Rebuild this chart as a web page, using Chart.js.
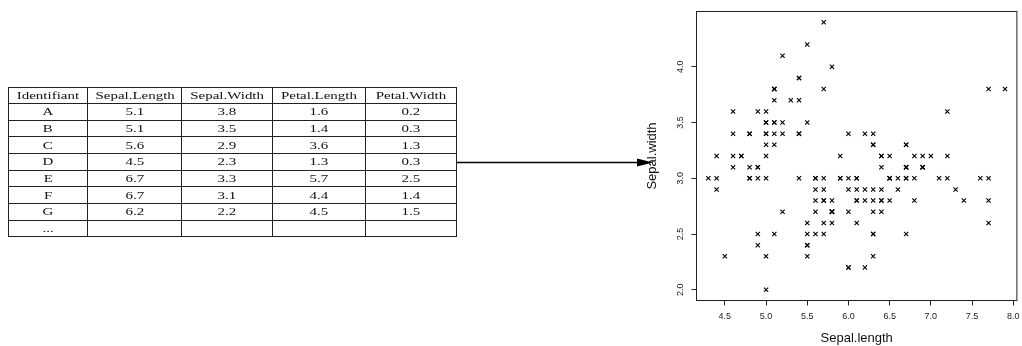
<!DOCTYPE html>
<html>
<head>
<meta charset="utf-8">
<script src="https://cdn.jsdelivr.net/npm/chart.js@4.4.1/dist/chart.umd.min.js"></script>
<style>
  html, body { margin: 0; padding: 0; background: #fff; }
  #wrap { position: relative; width: 1022px; height: 346px; overflow: hidden; }
  #plot { position: absolute; left: 0; top: 0; }
  #tbl {
    position: absolute; left: 8px; top: 86.5px; z-index: 2;
    border-collapse: collapse; table-layout: fixed; width: 448px;
    font-family: "Liberation Serif", "Times New Roman", serif; font-size: 11px; color: #111;
  }
  #tbl tr { height: 16.65px; }
  #tbl td { border: 1px solid #222; padding: 0; text-align: center; line-height: 13px; overflow: visible; }
  #tbl td span { display: inline-block; transform: scaleX(1.36); white-space: nowrap; }
</style>
</head>
<body>
<div id="wrap">
  <canvas id="plot" width="1022" height="346"></canvas>
  <table id="tbl">
    <colgroup>
      <col style="width:79px"><col style="width:94.4px"><col style="width:90.6px"><col style="width:93.4px"><col style="width:90.6px">
    </colgroup>
    <tbody id="tbody"></tbody>
  </table>
</div>
<script>
// ---- table content ----
const tableHeaders   = ['Identifiant', 'Sepal.Length', 'Sepal.Width', 'Petal.Length', 'Petal.Width'];
const rowIds         = ['A', 'B', 'C', 'D', 'E', 'F', 'G', '...'];
const rowSepalLength = ['5.1', '5.1', '5.6', '4.5', '6.7', '6.7', '6.2', ''];
const rowSepalWidth  = ['3.8', '3.5', '2.9', '2.3', '3.3', '3.1', '2.2', ''];
const rowPetalLength = ['1.6', '1.4', '3.6', '1.3', '5.7', '4.4', '4.5', ''];
const rowPetalWidth  = ['0.2', '0.3', '1.3', '0.3', '2.5', '1.4', '1.5', ''];
const arrowRowId     = 'D';

// ---- scatter data: iris sepal length / width ----
const sepalLength = [
  5.1,4.9,4.7,4.6,5.0,5.4,4.6,5.0,4.4,4.9,5.4,4.8,4.8,4.3,5.8,5.7,5.4,5.1,5.7,5.1,
  5.4,5.1,4.6,5.1,4.8,5.0,5.0,5.2,5.2,4.7,4.8,5.4,5.2,5.5,4.9,5.0,5.5,4.9,4.4,5.1,
  5.0,4.5,4.4,5.0,5.1,4.8,5.1,4.6,5.3,5.0,
  7.0,6.4,6.9,5.5,6.5,5.7,6.3,4.9,6.6,5.2,5.0,5.9,6.0,6.1,5.6,6.7,5.6,5.8,6.2,5.6,
  5.9,6.1,6.3,6.1,6.4,6.6,6.8,6.7,6.0,5.7,5.5,5.5,5.8,6.0,5.4,6.0,6.7,6.3,5.6,5.5,
  5.5,6.1,5.8,5.0,5.6,5.7,5.7,6.2,5.1,5.7,
  6.3,5.8,7.1,6.3,6.5,7.6,4.9,7.3,6.7,7.2,6.5,6.4,6.8,5.7,5.8,6.4,6.5,7.7,7.7,6.0,
  6.9,5.6,7.7,6.3,6.7,7.2,6.2,6.1,6.4,7.2,7.4,7.9,6.4,6.3,6.1,7.7,6.3,6.4,6.0,6.9,
  6.7,6.9,5.8,6.8,6.7,6.7,6.3,6.5,6.2,5.9
];
const sepalWidth = [
  3.5,3.0,3.2,3.1,3.6,3.9,3.4,3.4,2.9,3.1,3.7,3.4,3.0,3.0,4.0,4.4,3.9,3.5,3.8,3.8,
  3.4,3.7,3.6,3.3,3.4,3.0,3.4,3.5,3.4,3.2,3.1,3.4,4.1,4.2,3.1,3.2,3.5,3.6,3.0,3.4,
  3.5,2.3,3.2,3.5,3.8,3.0,3.8,3.2,3.7,3.3,
  3.2,3.2,3.1,2.3,2.8,2.8,3.3,2.4,2.9,2.7,2.0,3.0,2.2,2.9,2.9,3.1,3.0,2.7,2.2,2.5,
  3.2,2.8,2.5,2.8,2.9,3.0,2.8,3.0,2.9,2.6,2.4,2.4,2.7,2.7,3.0,3.4,3.1,2.3,3.0,2.5,
  2.6,3.0,2.6,2.3,2.7,3.0,2.9,2.9,2.5,2.8,
  3.3,2.7,3.0,2.9,3.0,3.0,2.5,2.9,2.5,3.6,3.2,2.7,3.0,2.5,2.8,3.2,3.0,3.8,2.6,2.2,
  3.2,2.8,2.8,2.7,3.3,3.2,2.8,3.0,2.8,3.0,2.8,3.8,2.8,2.8,2.6,3.0,3.4,3.1,3.0,3.1,
  3.1,3.1,2.7,3.2,3.3,3.0,2.5,3.0,3.4,3.0
];

// ---- axes ----
const xTickValues = [4.5, 5.0, 5.5, 6.0, 6.5, 7.0, 7.5, 8.0];
const yTickValues = [2.0, 2.5, 3.0, 3.5, 4.0];
const xRange = [4.156, 8.044];
const yRange = [1.904, 4.496];
const xTitle = 'Sepal.length';
const yTitle = 'Sepal.width';

// build the table
const tbody = document.getElementById('tbody');
function addRow(cells, id) {
  const tr = document.createElement('tr');
  if (id) tr.id = id;
  cells.forEach(c => {
    const td = document.createElement('td');
    const sp = document.createElement('span');
    sp.textContent = c;
    td.appendChild(sp);
    tr.appendChild(td);
  });
  tbody.appendChild(tr);
}
addRow(tableHeaders);
rowIds.forEach((id, i) => addRow([id, rowSepalLength[i], rowSepalWidth[i], rowPetalLength[i], rowPetalWidth[i]],
  id === arrowRowId ? 'arrowRow' : null));

// frame around the plotting region and the connector arrow from the table
const framePlugin = {
  id: 'frame',
  afterDraw(chart) {
    const { ctx, chartArea: a } = chart;
    ctx.save();
    ctx.strokeStyle = '#222';
    ctx.lineWidth = 1;
    ctx.strokeRect(a.left, a.top, a.right - a.left, a.bottom - a.top);

    const wrap = document.getElementById('wrap').getBoundingClientRect();
    const tRect = document.getElementById('tbl').getBoundingClientRect();
    const rRect = document.getElementById('arrowRow').getBoundingClientRect();
    const x0 = tRect.right - wrap.left;
    const y = Math.round(rRect.top + rRect.height / 2 - wrap.top) + 0.5;
    const tip = a.left - 43.5;
    const headLen = 16, headHalf = 4;
    ctx.strokeStyle = '#000';
    ctx.fillStyle = '#000';
    ctx.lineWidth = 1.3;
    ctx.beginPath();
    ctx.moveTo(x0, y);
    ctx.lineTo(tip - headLen + 1, y);
    ctx.stroke();
    ctx.beginPath();
    ctx.moveTo(tip, y);
    ctx.lineTo(tip - headLen, y - headHalf);
    ctx.lineTo(tip - headLen, y + headHalf);
    ctx.closePath();
    ctx.fill();
    ctx.restore();
  }
};

Chart.defaults.font.family = '"Liberation Sans", Arial, sans-serif';

new Chart(document.getElementById('plot'), {
  type: 'scatter',
  data: {
    datasets: [{
      data: sepalLength.map((x, i) => ({ x, y: sepalWidth[i] })),
      pointStyle: 'crossRot',
      pointRadius: 3,
      pointBorderWidth: 1.1,
      borderColor: '#000',
      backgroundColor: '#000',
      showLine: false
    }]
  },
  options: {
    responsive: false,
    animation: false,
    events: [],
    devicePixelRatio: 1,
    layout: { padding: { left: 640, right: 1.5, top: 11.5, bottom: 0 } },
    plugins: { legend: { display: false }, tooltip: { enabled: false } },
    scales: {
      x: {
        type: 'linear',
        min: xRange[0], max: xRange[1],
        afterBuildTicks: s => { s.ticks = xTickValues.map(v => ({ value: v })); },
        afterFit: s => { s.height = 45.5; s.paddingLeft = 0; s.paddingRight = 0; },
        ticks: {
          callback: v => Number(v).toFixed(1),
          font: { size: 9 }, color: '#222', padding: 6,
          autoSkip: false, maxRotation: 0, minRotation: 0
        },
        grid: { display: true, drawOnChartArea: false, drawTicks: true, tickLength: 5, color: '#222', lineWidth: 1 },
        border: { display: false },
        title: { display: true, text: xTitle, color: '#111', font: { size: 13 }, padding: { top: 0, bottom: 0 } }
      },
      y: {
        type: 'linear',
        min: yRange[0], max: yRange[1],
        afterBuildTicks: s => { s.ticks = yTickValues.map(v => ({ value: v })); },
        afterFit: s => { s.width = 56.5; s.paddingTop = 0; s.paddingBottom = 0; },
        ticks: {
          callback: v => Number(v).toFixed(1),
          font: { size: 9 }, color: '#222', padding: 5,
          minRotation: 90, maxRotation: 90, crossAlign: 'center', autoSkip: false
        },
        grid: { display: true, drawOnChartArea: false, drawTicks: true, tickLength: 5, color: '#222', lineWidth: 1 },
        border: { display: false },
        title: { display: true, text: yTitle, color: '#111', font: { size: 13 }, padding: { top: 5, bottom: 0 } }
      }
    }
  },
  plugins: [framePlugin]
});
</script>
</body>
</html>
